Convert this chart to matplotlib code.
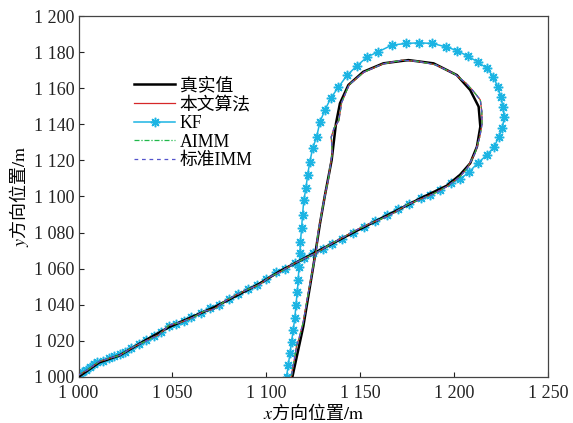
import matplotlib
matplotlib.use("Agg")
import matplotlib.pyplot as plt
from matplotlib.ticker import FuncFormatter, MultipleLocator

plt.rcParams["font.family"] = ["Liberation Serif", "Noto Sans CJK SC"]
plt.rcParams["mathtext.fontset"] = "stix"

# true trajectory (真实值)
true_x = [1000, 1011, 1022, 1036, 1048, 1061, 1072, 1084, 1096, 1107, 1127, 1148,
          1168, 1182, 1196, 1203, 1208.4, 1212, 1213.8, 1212.9, 1208.4, 1201.3,
          1188.9, 1175.5, 1162.2, 1151.5, 1143.6, 1139.1, 1137, 1134.7, 1131,
          1128.5, 1124.9, 1119.6, 1113.8, 1113.3]
true_y = [1000, 1008, 1012, 1020.5, 1027.5, 1033.5, 1038.5, 1045, 1051.5, 1058.5,
          1069.5, 1081, 1091.5, 1099, 1106, 1112, 1118.4, 1127.6, 1138.7, 1149.8,
          1159, 1167.3, 1173.8, 1175.6, 1173.8, 1169.1, 1161.8, 1151.6, 1140.5,
          1120.2, 1100, 1085.1, 1061.1, 1027.9, 1000, 997]

# proposed algorithm (本文算法), AIMM and standard IMM estimates
est_x = [1000, 1005, 1011, 1017, 1022, 1029, 1036, 1043, 1048, 1055, 1061, 1067,
         1072, 1078, 1084, 1090, 1096, 1102, 1107, 1115, 1121, 1127, 1134, 1141,
         1148, 1155, 1161, 1168, 1175, 1182, 1189, 1196, 1203, 1207, 1211, 1213.5,
         1214.7, 1214.6, 1213.8, 1210, 1206, 1200, 1190, 1180, 1172, 1162, 1152,
         1144, 1140, 1138.5, 1136, 1134.5, 1135, 1133, 1131, 1127.5, 1126.5, 1125,
         1122, 1119.5, 1117.5, 1116, 1115.3, 1114, 1112.8]
est_y = [1001, 1004, 1008.5, 1010.5, 1012, 1016.5, 1020, 1023.5, 1028.5, 1030.5,
         1033, 1036.5, 1037.5, 1042, 1045.5, 1048.5, 1051, 1055.5, 1058, 1063,
         1066, 1069, 1073.5, 1077.5, 1081.5, 1085, 1087.5, 1091, 1095.5, 1098.5,
         1101.5, 1105.5, 1111, 1116, 1124, 1133, 1140, 1147, 1153.5, 1158.5, 1163,
         1168, 1173, 1175, 1175.5, 1173.5, 1169, 1162, 1152, 1142, 1138, 1133,
         1124, 1110, 1100, 1080, 1070, 1062, 1045, 1030, 1022, 1017, 1012, 1005, 997]

# Kalman filter estimate (KF)
kf_x = [1000, 1002, 1004, 1006, 1008, 1010, 1013, 1016, 1019, 1022, 1025, 1028,
        1032, 1036, 1040, 1044, 1048, 1052, 1056, 1060, 1065, 1070, 1075, 1080,
        1085, 1090, 1095, 1100, 1105, 1110, 1115, 1120, 1125, 1130, 1135, 1140,
        1146, 1152, 1158, 1164, 1170, 1176, 1182, 1187, 1192.4, 1198.1, 1203.1,
        1208, 1212.3, 1217.3, 1221.2, 1223.5, 1225.5, 1226.5, 1225.8, 1224.8, 1223,
        1220.8, 1217.3, 1212.3, 1207, 1201.6, 1195.4, 1188.3, 1181.2, 1174.1,
        1166.7, 1159.5, 1153.7, 1148, 1143, 1138.2, 1134.2, 1131.1, 1128.5, 1126.7,
        1124.6, 1123.1, 1121.9, 1121, 1119.9, 1119.2, 1118.7, 1118.1, 1117.8,
        1117.3, 1116.9, 1116.4, 1115.7, 1115.1, 1114.2, 1113.4, 1112.5, 1111.6,
        1110.7]
kf_y = [1000.5, 1002.5, 1004, 1005.5, 1007, 1008, 1009, 1010.5, 1011.5, 1012.5,
        1014, 1016, 1018, 1020.5, 1022.5, 1025, 1028, 1029.5, 1031, 1033, 1035.5,
        1038, 1040, 1043, 1046, 1048.5, 1051, 1054.5, 1058, 1060, 1063, 1066,
        1068.5, 1071, 1073.5, 1076.5, 1080, 1083, 1086.5, 1090, 1093, 1096, 1099,
        1101, 1103.6, 1107.3, 1109.7, 1113.7, 1118.4, 1123, 1127.6, 1132.8, 1137.8,
        1143.9, 1149.4, 1155.3, 1160.8, 1166.4, 1171, 1174.7, 1177.8, 1180.8, 1183,
        1184.8, 1185.2, 1184.8, 1183.9, 1180.2, 1177.4, 1172.3, 1167.3, 1160.5,
        1154.4, 1147.9, 1141.4, 1133.1, 1126.7, 1119.3, 1111.9, 1104.5, 1098.1,
        1089.8, 1082.4, 1075, 1068.5, 1061.1, 1053.7, 1047.3, 1039.9, 1032.5, 1026,
        1019.6, 1013.1, 1006.6, 1000.2]


def thousands(v, pos):
    v = int(round(v))
    return f"{v // 1000} {v % 1000:03d}"


def main():
    fig = plt.figure(figsize=(5.73, 4.23), dpi=100)
    ax = fig.add_axes([0.137, 0.109, 0.82, 0.853])

    ax.plot(true_x, true_y, color="black", lw=1.8, label="真实值", zorder=3)
    ax.plot(est_x, est_y, color="#d62728", lw=0.9, label="本文算法", zorder=4)
    ax.plot(kf_x, kf_y, color="#1cb4e3", lw=1.1, marker=(8, 2, 0), ms=6.8,
            mew=1.1, label="KF", zorder=2)
    ax.plot(est_x, est_y, color="#1fb84a", lw=0.9, ls=(0, (4, 1.5, 1, 1.5)),
            label="AIMM", zorder=5)
    ax.plot(est_x, est_y, color="#5454cc", lw=0.9, ls=(0, (3, 3)),
            label="标准IMM", zorder=6)

    ax.set_xlim(1000, 1250)
    ax.set_ylim(1000, 1200)
    ax.xaxis.set_major_locator(MultipleLocator(50))
    ax.yaxis.set_major_locator(MultipleLocator(20))
    ax.xaxis.set_major_formatter(FuncFormatter(thousands))
    ax.yaxis.set_major_formatter(FuncFormatter(thousands))
    ax.tick_params(direction="in", length=3.5, width=0.8, labelsize=13,
                   colors="#222222", pad=3)
    ax.tick_params(axis="x", pad=6)
    for s in ax.spines.values():
        s.set_linewidth(0.9)
        s.set_color("#444444")

    ax.set_xlabel(r"$x$方向位置$\mathrm{/m}$", fontsize=13, labelpad=0,
                  family="Noto Sans CJK SC")
    ax.set_ylabel(r"$y$方向位置$\mathrm{/m}$", fontsize=13, labelpad=2,
                  family="Noto Sans CJK SC")

    ax.legend(loc="upper left", bbox_to_anchor=(0.1, 0.855), frameon=False,
              fontsize=12.8, handlelength=2.3, handletextpad=0.25,
              labelspacing=0.1, borderpad=0)

    fig.savefig("out.png", dpi=100)
    plt.close(fig)


if __name__ == "__main__":
    main()
